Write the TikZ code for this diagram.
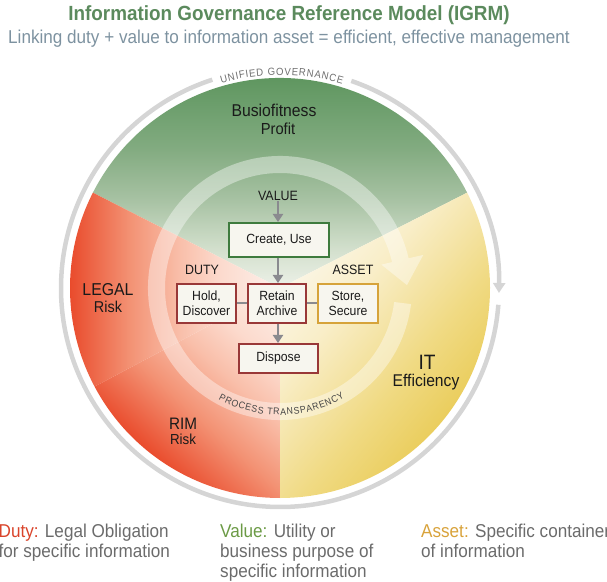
\documentclass[tikz,border=0pt]{standalone}
\usepackage{fontspec}
\setmainfont{Liberation Sans}[FakeStretch=0.92]
\usetikzlibrary{arrows.meta,decorations.text,calc}

\definecolor{titlegreen}{HTML}{5B8A5D}
\definecolor{subgray}{HTML}{7D92A0}
\definecolor{bottomgray}{HTML}{6B6B6B}
\definecolor{dutyred}{HTML}{D9442B}
\definecolor{valuegreen}{HTML}{6B9A45}
\definecolor{assetgold}{HTML}{D8A23A}
\definecolor{boxfill}{HTML}{F7F6EF}
\definecolor{boxgreen}{HTML}{3E7B3E}
\definecolor{boxred}{HTML}{993838}
\definecolor{boxgold}{HTML}{D6A33A}
\definecolor{arrowgray}{HTML}{8A8A8F}
\definecolor{ringgray}{HTML}{D5D5D5}
\definecolor{ringtext}{HTML}{6E6E6E}
\definecolor{proctext}{HTML}{454545}
\definecolor{labelblack}{HTML}{1A1A1A}

\definecolor{g0}{HTML}{EDF1E8}
\definecolor{g1}{HTML}{D2DFCC}
\definecolor{g2}{HTML}{A6C1A2}
\definecolor{g3}{HTML}{82AB80}
\definecolor{g4}{HTML}{5E965F}
\definecolor{r0}{HTML}{FDF1EB}
\definecolor{r1}{HTML}{FCDACD}
\definecolor{r2}{HTML}{F9BFAA}
\definecolor{r3}{HTML}{F39274}
\definecolor{r4}{HTML}{E9492A}
\definecolor{y0}{HTML}{FBF6E6}
\definecolor{y1}{HTML}{F9EEC8}
\definecolor{y2}{HTML}{F5E5AA}
\definecolor{y3}{HTML}{F0DA83}
\definecolor{y4}{HTML}{EACD5C}

\pgfdeclareverticalshading{greenlin}{100bp}{color(0bp)=(g0); color(25bp)=(g0); color(34.4bp)=(g1); color(46.2bp)=(g2); color(58bp)=(g3); color(75bp)=(g4); color(100bp)=(g4)}
\pgfdeclareverticalshading{redlin}{100bp}{color(0bp)=(r0); color(25bp)=(r0); color(39.2bp)=(r1); color(48.6bp)=(r2); color(60.4bp)=(r3); color(75bp)=(r4); color(100bp)=(r4)}
\pgfdeclareverticalshading{yellowlin}{100bp}{color(0bp)=(y0); color(25bp)=(y0); color(39.2bp)=(y1); color(48.6bp)=(y2); color(60.4bp)=(y3); color(75bp)=(y4); color(100bp)=(y4)}

\tikzset{
  box/.style={draw, line width=2pt, fill=boxfill, inner sep=0pt, align=center,
    font=\fontsize{13.3}{15}\selectfont, text=labelblack},
  lbl/.style={inner sep=0pt, font=\fontsize{13.5}{13.5}\selectfont, text=labelblack},
  seclbl/.style={inner sep=0pt, text=labelblack, anchor=base},
  flowarrow/.style={draw=arrowgray, line width=2.7pt, -{Triangle[width=10pt,length=8pt]}},
  connline/.style={draw=arrowgray, line width=2pt},
  bottomtxt/.style={inner sep=0pt, anchor=base west, text=bottomgray, font=\fontsize{18.6}{18.6}\selectfont},
  grayring/.style={draw=ringgray, line width=4.5pt}
}

\begin{document}
\begin{tikzpicture}[x=1pt,y=1pt]
\useasboundingbox (0,0) rectangle (607,581);
\clip (0,0) rectangle (607,581);
\coordinate (C) at (280,293);

% ---- sectors ----
\begin{scope}
  \clip (C) -- ($(C)+(27:210pt)$) arc[start angle=27,end angle=153,radius=210pt] -- cycle;
  \begin{scope}[transform canvas={rotate around={0:(C)}}]
    \shade[shading=greenlin] (60,293) rectangle (500,505);
  \end{scope}
\end{scope}
\begin{scope}
  \clip (C) -- ($(C)+(153:210pt)$) arc[start angle=153,end angle=208,radius=210pt] -- cycle;
  \begin{scope}[transform canvas={rotate around={90:(C)}}]
    \shade[shading=redlin] (60,293) rectangle (500,505);
  \end{scope}
\end{scope}
\begin{scope}
  \clip (C) -- ($(C)+(208:210pt)$) arc[start angle=208,end angle=270,radius=210pt] -- cycle;
  \begin{scope}[transform canvas={rotate around={138:(C)}}]
    \shade[shading=redlin] (60,293) rectangle (500,505);
  \end{scope}
\end{scope}
\begin{scope}
  \clip (C) -- ($(C)+(270:210pt)$) arc[start angle=270,end angle=387,radius=210pt] -- cycle;
  \begin{scope}[transform canvas={rotate around={230:(C)}}]
    \shade[shading=yellowlin] (60,293) rectangle (500,505);
  \end{scope}
\end{scope}

% ---- inner process ring (arrow) ----
\fill[white, fill opacity=0.4]
  ($(C)+(13:132pt)$) arc[start angle=13,end angle=353,radius=132pt]
  -- ($(C)+(353:115pt)$) arc[start angle=353,end angle=13,radius=115pt] -- cycle
  ($(C)+(13:104pt)$) -- ($(C)+(13:147pt)$) -- ($(C)+(1.3:127pt)$) -- cycle;

\path[decorate, decoration={text along path, text color=proctext,
    text={|\fontsize{9.6}{9.6}\selectfont|PROCESS TRANSPARENCY}, text align={fit to path}}]
  ($(C)+(241:127pt)$) arc[start angle=241,end angle=300.5,radius=127pt];

% ---- outer governance ring ----
\draw[grayring, -{Triangle[width=12pt,length=10pt]}]
  ($(C)+(71:219pt)$) arc[start angle=71,end angle=-1.3,radius=219pt];
\draw[grayring]
  ($(C)+(-4.4:219pt)$) arc[start angle=-4.4,end angle=-252,radius=219pt];
\path[decorate, decoration={text along path, text color=ringtext,
    text={|\fontsize{10.4}{10.4}\selectfont|UNIFIED GOVERNANCE}, text align={fit to path}}]
  ($(C)+(106:213pt)$) arc[start angle=106,end angle=73,radius=213pt];

% ---- sector labels ----
\node[seclbl, font=\fontsize{17.1}{17.1}\selectfont] (busi) at (274,464.5) {Busiofitness};
\node[seclbl, font=\fontsize{16}{16}\selectfont] (profit) at (278,446) {Profit};
\node[seclbl, font=\fontsize{17.2}{17.2}\selectfont] (legal) at (108,285.5) {LEGAL};
\node[seclbl, font=\fontsize{15.7}{15.7}\selectfont] (legalrisk) at (108,268) {Risk};
\node[seclbl, font=\fontsize{16.6}{16.6}\selectfont] (rim) at (183,151.5) {RIM};
\node[seclbl, font=\fontsize{14.5}{14.5}\selectfont] (rimrisk) at (183,136.5) {Risk};
\node[seclbl, font=\fontsize{20.8}{20.8}\selectfont] (it) at (427,211.5) {IT};
\node[seclbl, font=\fontsize{17}{17}\selectfont] (itsub) at (426,194) {Efficiency};

% ---- lifecycle ----
\node[lbl, anchor=base] (value) at (278,380.3) {VALUE};
\node[lbl, anchor=base] (duty) at (202,306) {DUTY};
\node[lbl, anchor=base] (asset) at (353,306) {ASSET};

\node[box, draw=boxgreen, minimum width=100pt, minimum height=34pt] (create) at (279,341) {Create, Use};
\node[box, draw=boxred, minimum width=59pt, minimum height=39pt] (hold) at (206.5,277.5) {Hold,\\Discover};
\node[box, draw=boxred, minimum width=58pt, minimum height=39pt] (retain) at (277,277.5) {Retain\\Archive};
\node[box, draw=boxgold, minimum width=60pt, minimum height=39pt] (store) at (348,277.5) {Store,\\Secure};
\node[box, draw=boxred, minimum width=79pt, minimum height=29pt] (dispose) at (278.5,222.5) {Dispose};

\draw[connline] (hold) -- (retain);
\draw[connline] (retain) -- (store);
\draw[flowarrow] (value) -- (value |- create.north);
\draw[flowarrow] (create.south -| value) -- (value |- retain.north);
\draw[flowarrow] (retain.south -| value) -- (value |- dispose.north);

% ---- title ----
\node[anchor=base, inner sep=0pt, font=\bfseries\fontsize{20.5}{20.5}\selectfont, text=titlegreen] (title) at (289,560) {Information Governance Reference Model (IGRM)};
\node[anchor=base, inner sep=0pt, font=\fontsize{18.6}{18.6}\selectfont, text=subgray] (subtitle) at (289,537.5) {Linking duty + value to information asset = efficient, effective management};

% ---- legend ----
\node[bottomtxt] (duty1) at (-1.5,44) {\textcolor{dutyred}{Duty:} Legal Obligation};
\node[bottomtxt] (duty2) at (-1.5,23.5) {for specific information};
\node[bottomtxt] (value1) at (220,44) {\textcolor{valuegreen}{Value:} Utility or};
\node[bottomtxt] (value2) at (220,23.5) {business purpose of};
\node[bottomtxt] (value3) at (220,4) {specific information};
\node[bottomtxt] (asset1) at (421,44) {\textcolor{assetgold}{Asset:} Specific container};
\node[bottomtxt] (asset2) at (421,23.5) {of information};
\end{tikzpicture}
\end{document}
